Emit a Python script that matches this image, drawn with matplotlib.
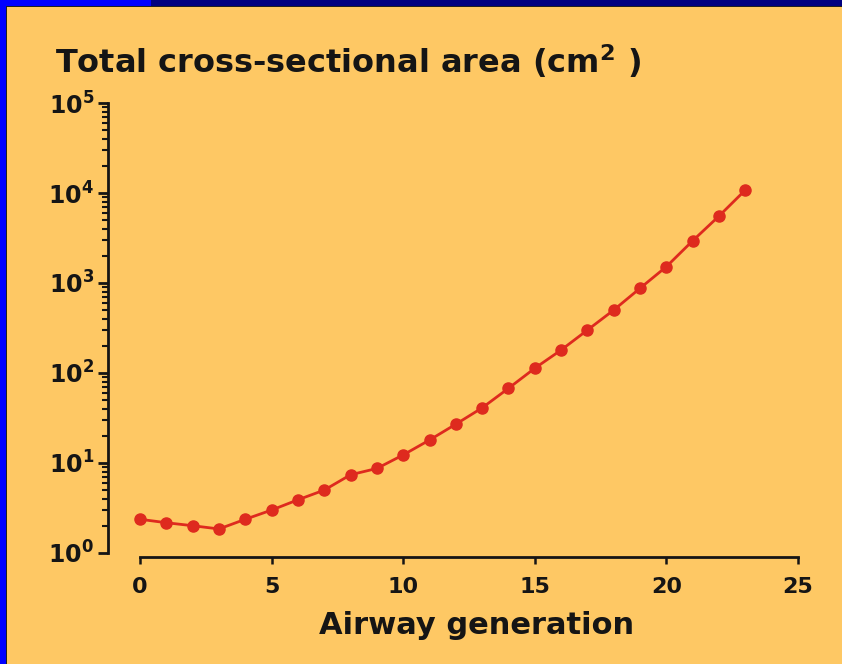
import matplotlib
matplotlib.use("Agg")
import matplotlib.pyplot as plt
from matplotlib.patches import Rectangle
from matplotlib.ticker import LogLocator, LogFormatterSciNotation, NullFormatter

# Airway generation vs total cross-sectional area (cm^2)
generation = list(range(24))
area_cm2 = [2.37, 2.17, 2.01, 1.85, 2.37, 3.0, 3.9, 5.0, 7.4, 8.7, 12.3, 18.0,
            27.0, 41.0, 67.6, 113, 180, 300, 501, 875, 1520, 2950, 5550, 10800]
x_ticks = [0, 5, 10, 15, 20, 25]

W, H = 842, 664
bg = "#FEC864"
red = "#DE2A1E"
ink = "#151515"
font = "DejaVu Sans"

fig = plt.figure(figsize=(W / 100, H / 100), dpi=100, facecolor=bg)

# slide-style frame strips along the top and left edges
def px_rect(x0, y0, w, h, color):
    fig.patches.append(Rectangle((x0 / W, 1 - (y0 + h) / H), w / W, h / H,
                                 transform=fig.transFigure, facecolor=color,
                                 edgecolor="none", zorder=0))

px_rect(0, 0, W, 6, "#000080")
px_rect(0, 0, 151, 6, "#0000FF")
px_rect(0, 0, 6, H, "#0000FF")
px_rect(6, 6, W - 6, 1.2, "#202020")
px_rect(6, 6, 1.2, H - 6, "#202020")

ax = fig.add_axes([140 / W, (H - 553) / H, (798 - 140) / W, (553 - 103) / H])
ax.set_facecolor("none")

ax.plot(generation, area_cm2, color=red, lw=2.0, marker="o", ms=8,
        mec=red, mfc=red, clip_on=False)

ax.set_yscale("log")
ax.set_ylim(1, 1e5)
ax.set_xlim(0, 25)
ax.set_xticks(x_ticks)
ax.yaxis.set_major_locator(LogLocator(base=10, numticks=10))
ax.yaxis.set_minor_locator(LogLocator(base=10, subs=range(2, 10), numticks=20))
ax.yaxis.set_major_formatter(LogFormatterSciNotation())
ax.yaxis.set_minor_formatter(NullFormatter())

for side in ("top", "right"):
    ax.spines[side].set_visible(False)
for side in ("left", "bottom"):
    ax.spines[side].set_linewidth(2.0)
    ax.spines[side].set_color(ink)
# detached axes: offsets given in points (0.72 pt per pixel at 100 dpi)
ax.spines["left"].set_position(("outward", 23))
ax.spines["bottom"].set_position(("outward", 3))

ax.tick_params(axis="y", which="major", direction="out", length=7, width=2.0,
               color=ink, pad=3, labelsize=17, labelcolor=ink)
ax.tick_params(axis="y", which="minor", direction="out", length=4, width=1.5,
               color=ink)
ax.tick_params(axis="x", which="major", direction="out", length=5, width=1.8,
               color=ink, pad=9, labelsize=16, labelcolor=ink)
for lbl in ax.get_xticklabels() + ax.get_yticklabels():
    lbl.set_fontfamily(font)
    lbl.set_fontweight("bold")

fig.text(55 / W, 1 - 61 / H, "Total cross-sectional area (cm$^{\\mathbf{2}}$ )",
         ha="left", va="center", fontsize=23, fontweight="bold",
         family=font, color=ink)
fig.text(477 / W, 1 - 625 / H, "Airway generation", ha="center", va="center",
         fontsize=22, fontweight="bold", family=font, color=ink)

fig.savefig("out.png", dpi=100, facecolor=bg)
